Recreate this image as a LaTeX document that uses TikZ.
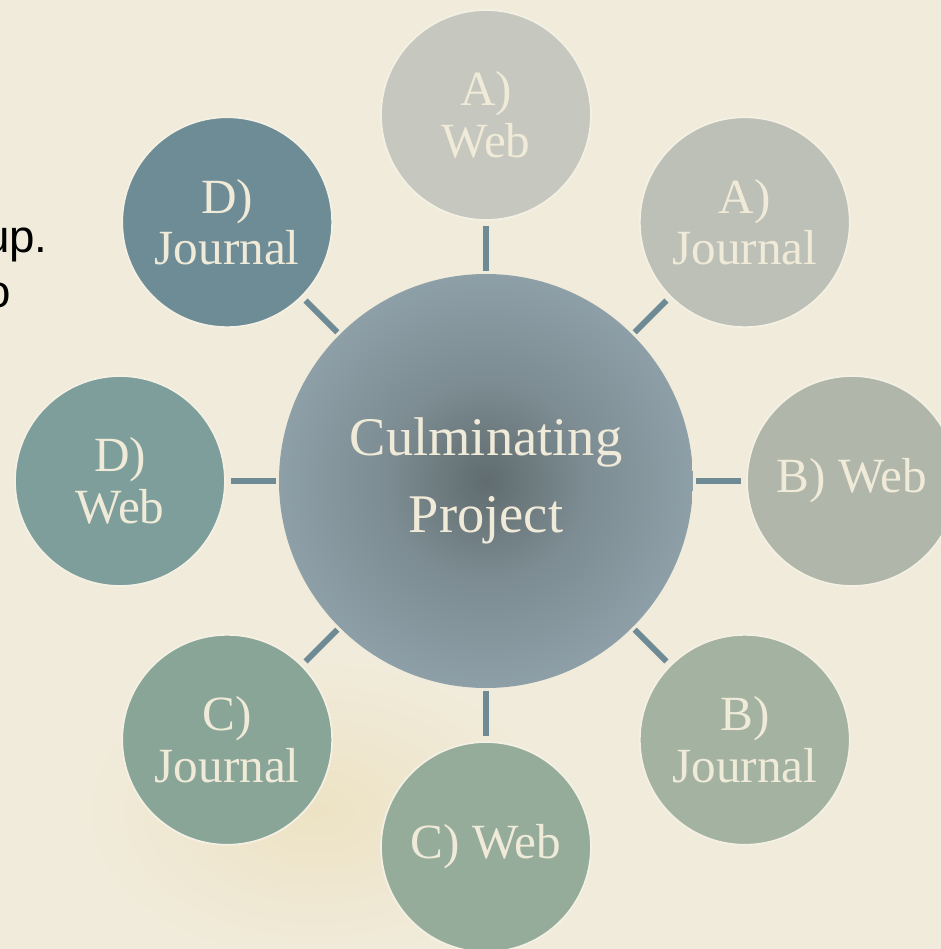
\documentclass[tikz,border=0pt]{standalone}
\usepackage{fontspec}
\setmainfont{Liberation Serif}
\newfontfamily\slidesans{Liberation Sans}
\usepackage{tikz}
\usetikzlibrary{positioning,calc}
\definecolor{bgP}{RGB}{240,235,218}
\definecolor{bgS}{RGB}{237,226,196}
\definecolor{clrT}{RGB}{240,234,216}
\definecolor{clrL}{RGB}{110,139,149}
\definecolor{clrAW}{RGB}{198,199,191}
\definecolor{clrAJ}{RGB}{189,192,183}
\definecolor{clrBW}{RGB}{176,182,170}
\definecolor{clrBJ}{RGB}{163,178,161}
\definecolor{clrCW}{RGB}{149,172,155}
\definecolor{clrCJ}{RGB}{137,165,152}
\definecolor{clrDW}{RGB}{126,158,155}
\definecolor{clrDJ}{RGB}{110,140,149}
\definecolor{hubIn}{RGB}{96,108,110}
\definecolor{hubMid}{RGB}{124,140,146}
\definecolor{hubOut}{RGB}{151,169,179}
\pgfdeclareradialshading{hubshade}{\pgfpointorigin}{color(0bp)=(hubIn);
  color(12bp)=(hubMid); color(32bp)=(hubOut); color(50bp)=(hubOut)}
\tikzset{
  hub/.style={circle,minimum size=8.28cm,inner sep=0pt,shading=hubshade,
    text=clrT,align=center,font=\fontsize{31}{44}\selectfont},
  spoke/.style={circle,minimum size=4.2cm,inner sep=0pt,draw=bgP!75!white,
    line width=1pt,text=clrT,align=center,font=\fontsize{28}{29.5}\selectfont},
  link/.style={line width=3.4pt,color=clrL,shorten <=0.06cm,shorten >=0.1cm},
  slidetext/.style={anchor=base east,inner sep=0pt,
    font=\slidesans\fontsize{26}{30}\selectfont,text=black}
}
\begin{document}
\begin{tikzpicture}[x=1cm,y=1cm]
  \def\dd{7.32}
  \useasboundingbox (-9.72,-9.36) rectangle (9.10,9.62);
  \clip (-9.72,-9.36) rectangle (9.10,9.62);
  \fill[bgP] (-9.72,-9.36) rectangle (9.10,9.62);
  \shade[inner color=bgS,outer color=bgP] (-3.4,-6.6) ellipse (4.6 and 3.0);
  % text left over from the slide underneath
  \node[slidetext] (lineA) at (-8.76,4.58) {up.};
  \node[slidetext] (lineB) at (-9.50,3.48) {o};
  % centre and the eight tasks
  \node[hub] (hub) at (0,0) {Culminating\\Project};
  \node[spoke,fill=clrAW] (aweb) at (90:\dd) {A)\\Web};
  \node[spoke,fill=clrAJ] (ajour) at (45:\dd) {A)\\Journal};
  \node[spoke,fill=clrBW] (bweb) at (0:\dd) {B) Web};
  \node[spoke,fill=clrBJ] (bjour) at (-45:\dd) {B)\\Journal};
  \node[spoke,fill=clrCW] (cweb) at (-90:\dd) {C) Web};
  \node[spoke,fill=clrCJ] (cjour) at (-135:\dd) {C)\\Journal};
  \node[spoke,fill=clrDW] (dweb) at (180:\dd) {D)\\Web};
  \node[spoke,fill=clrDJ] (djour) at (135:\dd) {D)\\Journal};
  \draw[link] (hub) -- (aweb);
  \draw[link] (hub) -- (ajour);
  \draw[link] (hub) -- (bweb);
  \draw[link] (hub) -- (bjour);
  \draw[link] (hub) -- (cweb);
  \draw[link] (hub) -- (cjour);
  \draw[link] (hub) -- (dweb);
  \draw[link] (hub) -- (djour);
\end{tikzpicture}
\end{document}
